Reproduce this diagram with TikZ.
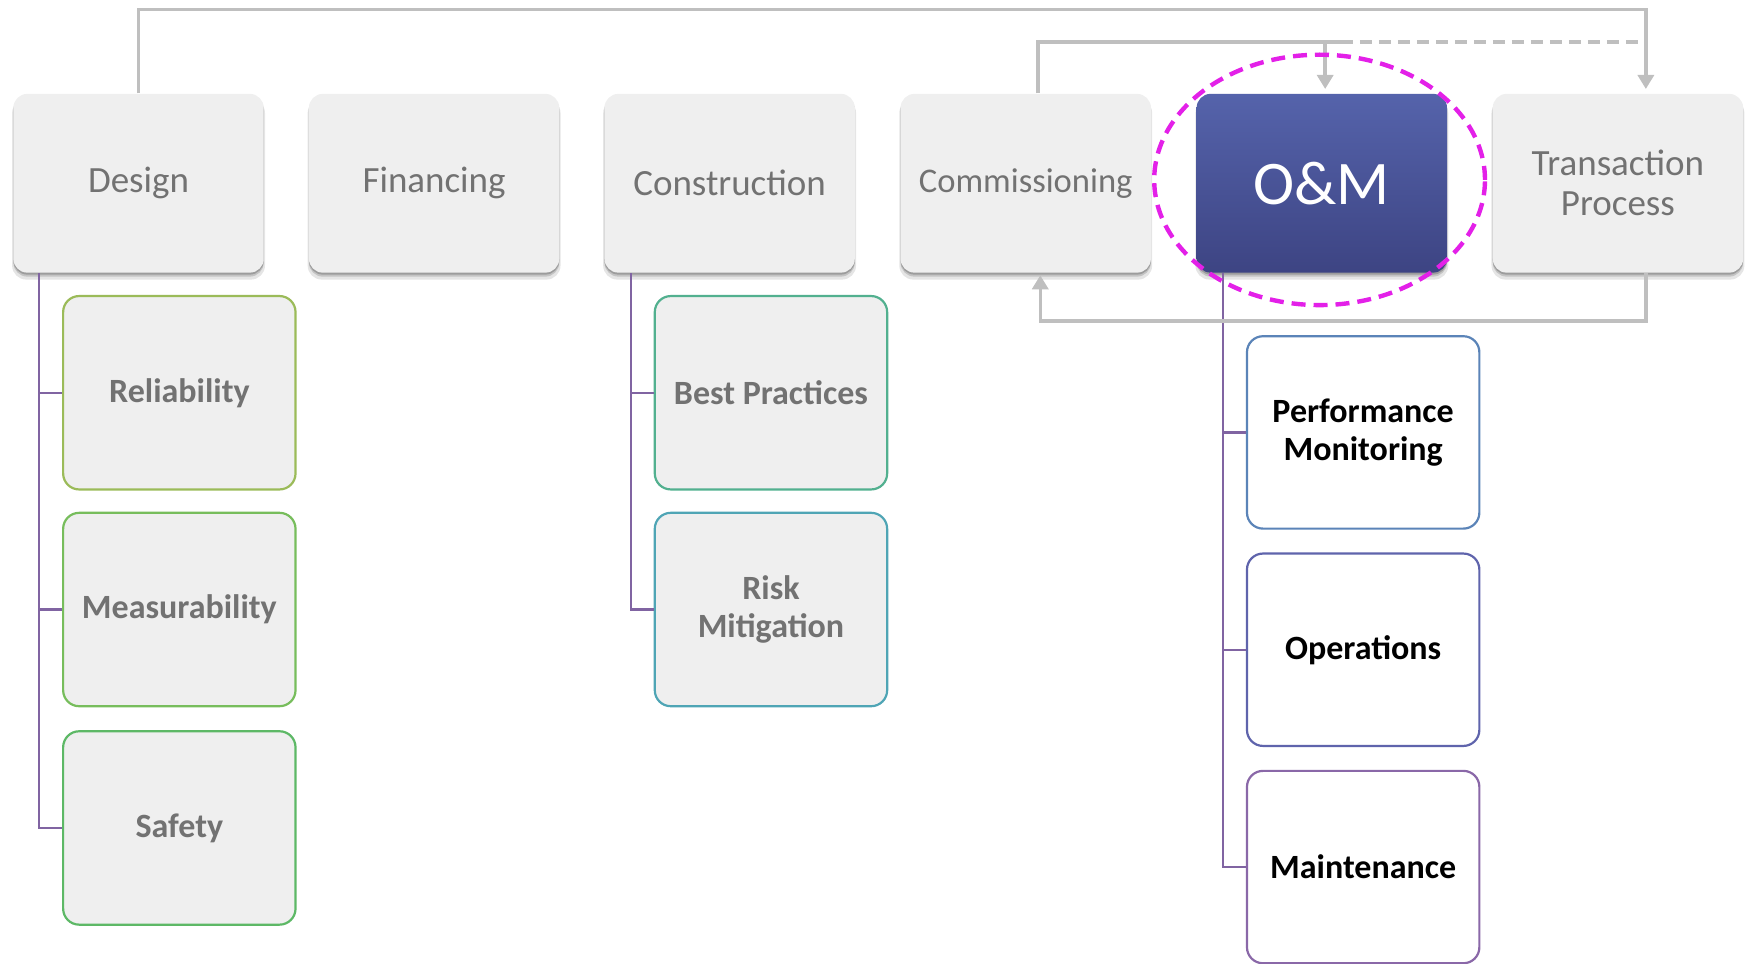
\documentclass[tikz,border=0pt]{standalone}
\usepackage{fontspec}
\setmainfont{Carlito}
\usetikzlibrary{shadows,arrows.meta,calc}
\definecolor{boxfill}{HTML}{EFEFEF}
\definecolor{txtgray}{HTML}{727272}
\definecolor{conngray}{HTML}{BFBFBF}
\definecolor{mag}{HTML}{E320E8}
\definecolor{branchc}{HTML}{8064A2}
\definecolor{cRel}{HTML}{9BBB59}
\definecolor{cMea}{HTML}{77BD5C}
\definecolor{cSaf}{HTML}{5DB866}
\definecolor{cBP}{HTML}{52B08F}
\definecolor{cRM}{HTML}{4FA5B5}
\definecolor{cPM}{HTML}{5B84B8}
\definecolor{cOps}{HTML}{5F64AC}
\definecolor{cMnt}{HTML}{8A68A8}
\definecolor{omtop}{HTML}{5563AB}
\definecolor{ombot}{HTML}{3D4483}
\begin{document}
\begin{tikzpicture}[x=0.5587pt,y=-0.5587pt,
  softshadow/.style={
     drop shadow={shadow xshift=0pt, shadow yshift=-3pt, shadow scale=1.01, opacity=0.10, fill=black},
     drop shadow={shadow xshift=0pt, shadow yshift=-2pt, opacity=0.15, fill=black},
     drop shadow={shadow xshift=0pt, shadow yshift=-1pt, opacity=0.2, fill=black}},
  topbox/.style={rectangle, rounded corners=7pt, fill=boxfill, minimum width=125.2pt, minimum height=89.4pt,
     inner sep=0pt, align=center, text=txtgray, font=\fontsize{18.5}{20}\selectfont, softshadow},
  ombox/.style={rectangle, rounded corners=7pt, top color=omtop, bottom color=ombot, minimum width=125.2pt, minimum height=89.4pt,
     inner sep=0pt, align=center, text=white, font=\fontsize{31}{34}\selectfont, softshadow},
  subbox/.style={rectangle, rounded corners=8pt, fill=boxfill, line width=1.1pt, minimum width=116.2pt, minimum height=96.7pt,
     inner sep=0pt, align=center, text=txtgray, font=\bfseries\fontsize{17}{19}\selectfont},
  omsub/.style={rectangle, rounded corners=8pt, fill=white, line width=1.1pt, minimum width=116.2pt, minimum height=96.2pt,
     inner sep=0pt, align=center, text=black, font=\bfseries\fontsize{17}{19}\selectfont},
  conn/.style={draw=conngray, line width=1.7pt},
  arr/.style={-{Triangle[width=8pt,length=7pt]}},
  branch/.style={draw=branchc, line width=1.1pt}]
\useasboundingbox (0,0) rectangle (1568,862);

% top row
\node[topbox] (des) at (124,164) {Design};
\node[topbox] (fin) at (388.5,164) {Financing};
\node[topbox] (con) at (653,164) {Construction};
\node[topbox, font=\fontsize{17.3}{20}\selectfont] (com) at (918,164) {Commissioning};
\node[ombox]  (om)  at (1183,164) {O\&M};
\node[topbox] (tp) at (1448,164) {Transaction\\Process};

% sub boxes
\node[subbox, draw=cRel] (rel) at (160.5,351.5) {Reliability};
\node[subbox, draw=cMea] (mea) at (160.5,545.5) {Measurability};
\node[subbox, draw=cSaf] (saf) at (160.5,741) {Safety};
\node[subbox, draw=cBP]  (bp)  at (690,351.5) {Best Practices};
\node[subbox, draw=cRM]  (rm)  at (690,545.5) {Risk\\Mitigation};
\node[omsub, draw=cPM]  (pm)  at (1220,387) {Performance\\Monitoring};
\node[omsub, draw=cOps] (ops) at (1220,581.5) {Operations};
\node[omsub, draw=cMnt] (mnt) at (1220,776) {Maintenance};

% branches
\coordinate (db) at ($(des.south west)+(23,0)$);
\draw[branch] (db) |- (saf.west);
\draw[branch] (db |- rel.west) -- (rel.west);
\draw[branch] (db |- mea.west) -- (mea.west);
\coordinate (cb) at ($(con.south west)+(24,0)$);
\draw[branch] (cb) |- (rm.west);
\draw[branch] (cb |- bp.west) -- (bp.west);
\coordinate (ob) at ($(om.south west)+(24,0)$);
\draw[branch] (ob) |- (mnt.west);
\draw[branch] (ob |- pm.west) -- (pm.west);
\draw[branch] (ob |- ops.west) -- (ops.west);

% connectors
\coordinate (tpin) at ($(tp.north)+(25,-4)$);
\coordinate (tpout) at ($(tp.south)+(25,0)$);
\coordinate (dtop) at ($(des.north)+(0,-75)$);
\draw[conn,arr] (des.north) -- (dtop) -| (tpin);
\coordinate (csplit) at ($(om.north)+(17,-46)$);
\draw[conn] ($(com.north)+(11,0)$) |- (csplit);
\draw[conn, dash pattern=on 6pt off 3.5pt] (csplit) -- (csplit -| tpin);
\draw[conn,arr] ($(om.north)+(3,-46)$) -- ($(om.north)+(3,-4)$);
\draw[conn,arr] (tpout) -- ($(tpout)+(0,43)$) -| ($(com.south)+(13,2)$);

% highlight ellipse
\draw[mag, line width=2.2pt, dash pattern=on 7pt off 4pt] ($(om.center)+(-2,-3)$) ellipse [x radius=82.7pt, y radius=62.6pt];
\end{tikzpicture}
\end{document}
